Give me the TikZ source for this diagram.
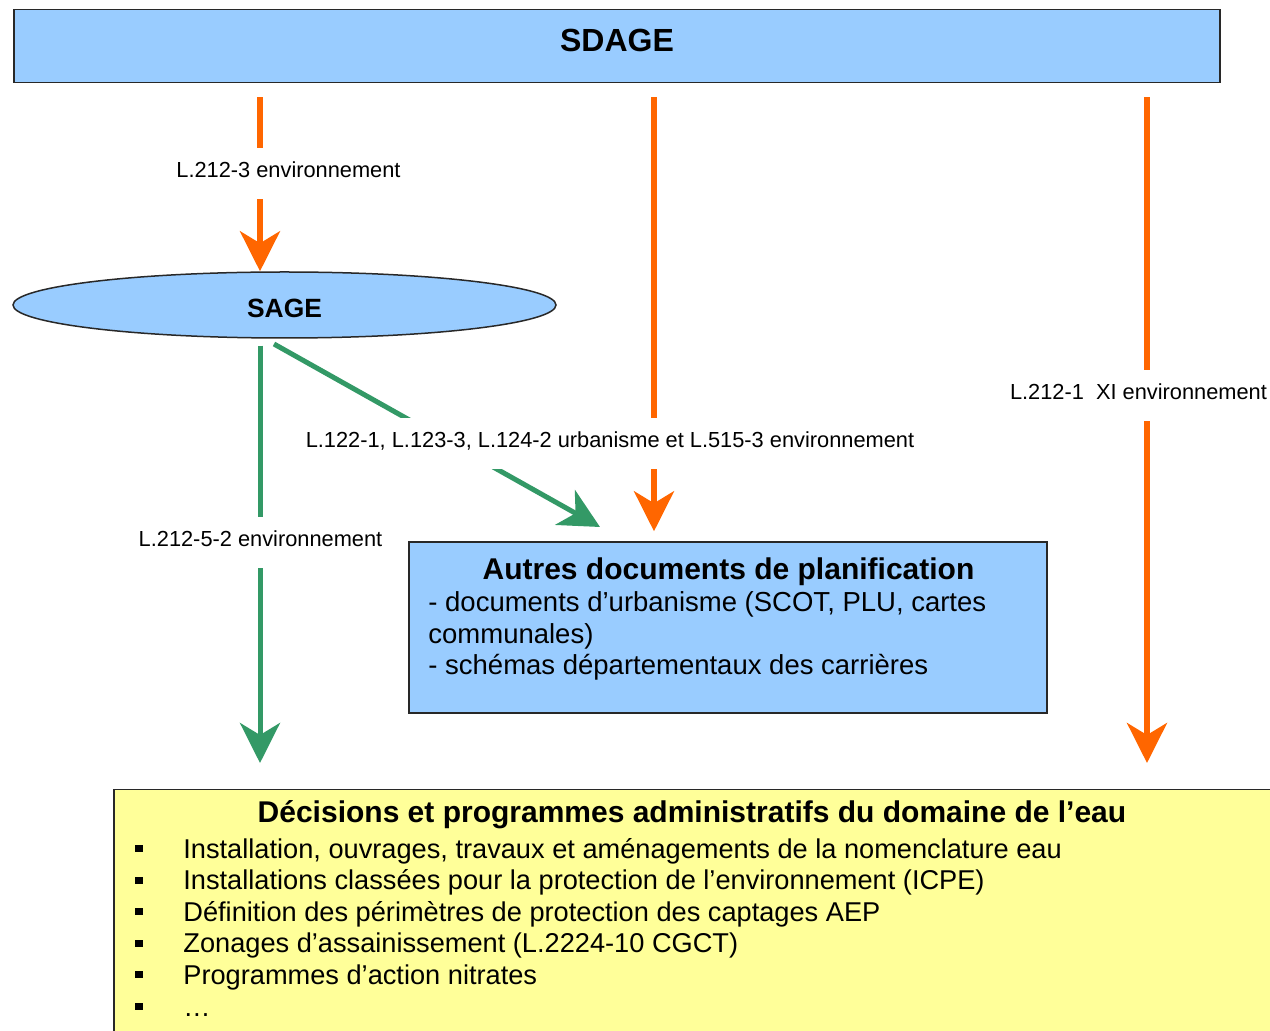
\documentclass[tikz,border=0pt]{standalone}
\usepackage{fontspec}
\setmainfont{Liberation Sans}
\usepackage{tikz}
\usetikzlibrary{arrows.meta,shapes,positioning}
\definecolor{sdblue}{RGB}{153,204,255}
\definecolor{sdyellow}{RGB}{255,255,153}
\definecolor{sdorange}{RGB}{255,102,0}
\definecolor{sdgreen}{RGB}{51,153,102}
\definecolor{sdborder}{RGB}{40,40,40}
\tikzstyle{orangearrow} = [line width=2.75pt, -{Stealth[length=20pt,width=20pt,inset=6pt]}, color=sdorange]
\tikzstyle{greenarrow} = [line width=2.5pt, -{Stealth[length=20pt,width=20pt,inset=6pt]}, color=sdgreen]
\tikzstyle{planbox} = [rectangle, draw=sdborder, line width=0.75pt, fill=sdblue, inner sep=0pt]
\tikzstyle{lawlabel} = [fill=white, inner xsep=3pt, inner ysep=7pt, text depth=3.5pt, anchor=base, font=\fontsize{10.9}{13}\selectfont]
\tikzstyle{boxtitle} = [inner sep=0pt, anchor=base, font=\fontsize{15}{18}\selectfont\bfseries]
\tikzstyle{boxline} = [inner sep=0pt, anchor=base west, font=\fontsize{13.6}{16}\selectfont]
\newcommand{\sqbullet}{\makebox[24pt][l]{\rule[3pt]{4pt}{3.5pt}}}

\begin{document}
\begin{tikzpicture}[x=0.5pt, y=-0.5pt]
\useasboundingbox (0,0) rectangle (1270,1031);
\clip (0,0) rectangle (1270,1031);
% boxes
\node (sdage) [planbox, minimum width=603pt, minimum height=36.5pt, text depth=6pt, font=\fontsize{16}{19}\selectfont\bfseries] at (617,46) {SDAGE};
\node (sage) [ellipse, draw=sdborder, line width=0.75pt, fill=sdblue, minimum width=271.5pt, minimum height=33pt, inner sep=0pt, text height=12.5pt, font=\fontsize{13.2}{16}\selectfont\bfseries] at (284.5,305) {SAGE};
\node (autres) [planbox, minimum width=319pt, minimum height=85.5pt] at (728,627.5) {};
\node (decisions) [planbox, fill=sdyellow, anchor=north west, minimum width=579pt, minimum height=130pt] at (113,789) {};

% where the arrows run
\coordinate (leftx) at (260,0);
\coordinate (midx) at (654,0);
\coordinate (rightx) at (1147,0);
\coordinate (gstart) at (274,344);
\coordinate (gend) at (600,527);

% connectors
\draw[orangearrow, shorten <=7pt] (sdage.south -| leftx) -- (sage.north -| leftx);
\draw[orangearrow, shorten <=7pt, shorten >=5pt] (sdage.south -| midx) -- (autres.north -| midx);
\draw[orangearrow, shorten <=7pt, shorten >=13pt] (sdage.south -| rightx) -- (decisions.north -| rightx);
\draw[greenarrow, shorten <=3.5pt, shorten >=13pt] (sage.south -| leftx) -- (decisions.north -| leftx);
\draw[greenarrow] (gstart) -- (gend);

% law labels
\node (lawsdage) [lawlabel] at (288.5,178) {L.212-3 environnement};
\node (lawurba) [lawlabel] at (610,448) {L.122-1, L.123-3, L.124-2 urbanisme et L.515-3 environnement};
\node (lawxi) [lawlabel] at (1138.5,400) {L.212-1\ \ XI environnement};
\node (lawsage) [lawlabel] at (260.5,547) {L.212-5-2 environnement};

% texts in the boxes
\node (autrestitle) [boxtitle] at (728.5,580) {Autres documents de planification};
\node (autresline1) [boxline, font=\fontsize{13.75}{16}\selectfont] at (428,612) {- documents d’urbanisme (SCOT, PLU, cartes};
\node (autresline2) [boxline, font=\fontsize{13.75}{16}\selectfont] at (428,643.5) {communales)};
\node (autresline3) [boxline, font=\fontsize{13.75}{16}\selectfont] at (428,675) {- schémas départementaux des carrières};

\node (decititle) [boxtitle] at (692,823) {Décisions et programmes administratifs du domaine de l’eau};
\node (item1) [boxline] at (135,858) {\sqbullet Installation, ouvrages, travaux et aménagements de la nomenclature eau};
\node (item2) [boxline] at (135,889.6) {\sqbullet Installations classées pour la protection de l’environnement (ICPE)};
\node (item3) [boxline] at (135,921.2) {\sqbullet Définition des périmètres de protection des captages AEP};
\node (item4) [boxline] at (135,952.8) {\sqbullet Zonages d’assainissement (L.2224-10 CGCT)};
\node (item5) [boxline] at (135,984.4) {\sqbullet Programmes d’action nitrates};
\node (item6) [boxline] at (135,1016) {\sqbullet …};
\end{tikzpicture}
\end{document}
